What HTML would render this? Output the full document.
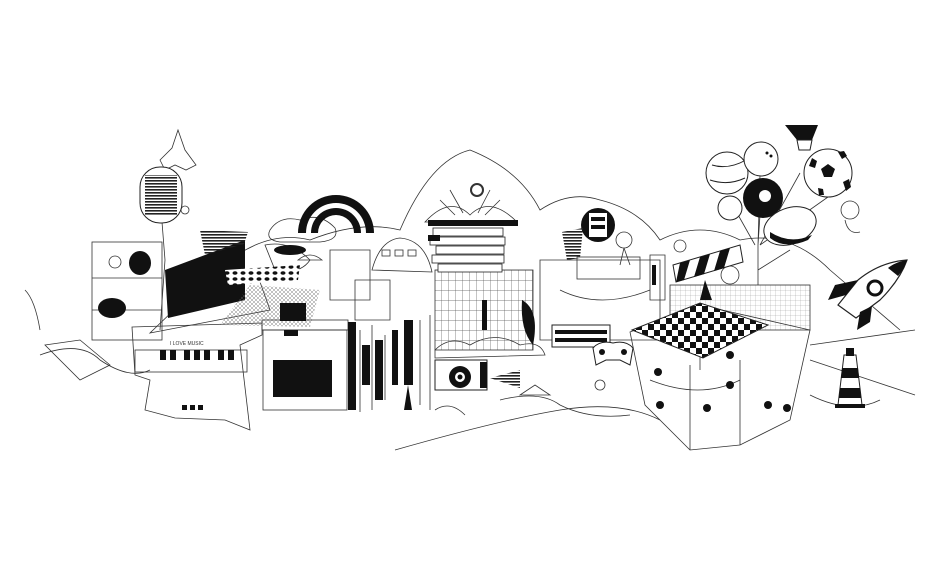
<!DOCTYPE html>
<html><head><meta charset="utf-8"><style>html,body{margin:0;padding:0;background:#fff}svg{display:block}</style></head>
<body>
<svg width="950" height="573" viewBox="0 0 950 573" xmlns="http://www.w3.org/2000/svg">
<defs>
<pattern id="chk" width="12" height="12" patternUnits="userSpaceOnUse"><rect width="12" height="12" fill="#fff"/><rect width="6" height="6" fill="#111"/><rect x="6" y="6" width="6" height="6" fill="#111"/></pattern>
<pattern id="grid" width="4" height="4" patternUnits="userSpaceOnUse"><path d="M0 0L4 4M4 0L0 4" stroke="#666" stroke-width="0.4"/></pattern>
<pattern id="lgrid" width="5" height="5" patternUnits="userSpaceOnUse"><path d="M0 0V5M0 0H5" stroke="#888" stroke-width="0.4"/></pattern>
<pattern id="hl" width="4" height="3" patternUnits="userSpaceOnUse"><rect width="4" height="1.6" fill="#222"/></pattern>
<pattern id="vl" width="7" height="10" patternUnits="userSpaceOnUse"><path d="M0 0V10M0 0H7" stroke="#555" stroke-width="0.7"/></pattern>
<pattern id="dots" width="8" height="6" patternUnits="userSpaceOnUse"><rect width="8" height="6" fill="#fff"/><ellipse cx="3" cy="3" rx="2.5" ry="1.8" fill="#111"/></pattern>
</defs>
<g fill="none" stroke="#333" stroke-width="0.8">
<path d="M230 260 Q270 230 310 240 Q360 220 400 230 Q430 160 470 150 Q520 170 540 210 Q570 190 600 200 Q640 210 660 240 Q700 220 740 240 Q790 230 830 270 L900 330"/>
<path d="M395 450 Q500 420 560 410 Q620 400 660 420"/>
<path d="M40 355 Q80 340 100 360 Q130 380 150 370"/>
<path d="M25 290 Q35 300 40 330"/>
<path d="M810 345 L915 330 M810 360 L915 395 M810 395 Q850 415 880 400"/>
<path d="M500 400 Q540 390 560 405 Q590 420 630 415"/>
<rect x="92" y="242" width="70" height="98"/>
<line x1="92" y1="278" x2="162" y2="278"/><line x1="92" y1="310" x2="162" y2="310"/>
<circle cx="115" cy="262" r="6"/>
<path d="M160 160 L172 148 L178 130 L185 150 L196 165 L186 170 L175 165 L165 170 Z"/>
<path d="M45 345 L80 340 L110 365 L80 380 Z"/>
<path d="M265 245 Q290 240 310 260 Q300 275 275 270 Z"/>
<path d="M330 250 L370 250 L370 300 L330 300 Z"/>
<path d="M355 280 L390 280 L390 320 L355 320 Z"/>
<path d="M372 270 Q380 240 400 238 Q425 240 432 272 Z"/>
<rect x="382" y="250" width="8" height="6"/><rect x="395" y="250" width="8" height="6"/><rect x="408" y="250" width="8" height="6"/>
<path d="M270 230 Q280 215 300 220 Q320 212 335 228 Q340 240 320 242 L280 242 Q265 240 270 230 Z"/>
<path d="M435 350 Q450 335 470 345 Q495 330 520 345 Q540 340 545 355 L435 358 Z"/>
<path d="M540 260 L660 260 L660 340 L540 340 Z"/>
<path d="M560 290 Q600 310 650 290"/>
<rect x="577" y="257" width="63" height="22"/>
<circle cx="624" cy="240" r="8"/>
<path d="M624 248 L620 265 M624 248 L630 265"/>
<path d="M650 255 L665 255 L665 300 L650 300 Z"/>
<rect x="670" y="285" width="140" height="45" fill="url(#lgrid)"/>
<circle cx="730" cy="275" r="9"/>
<circle cx="680" cy="246" r="6"/>
<circle cx="850" cy="210" r="9"/><path d="M845 220 Q848 235 860 232"/>
<path d="M728 197 L755 245 M760 175 L758 245 M800 173 L760 245 M828 197 L760 245 M760 215 L758 245 M790 250 L758 270 M758 245 L758 285"/>
<path d="M630 332 L700 305 L810 330 L790 420 L740 445 L690 450 L645 405 Z"/>
<path d="M700 305 L700 370 M690 365 L690 450 M740 360 L740 445"/>
<path d="M650 380 Q700 400 740 380"/>
<path d="M360 330 L360 412 M372 325 L372 410 M385 335 L385 400 M420 320 L420 405 M430 315 L430 410"/>
<path d="M435 410 Q450 400 465 415"/>
<path d="M132 327 L262 323 L262 335 L240 345 L250 430 L225 420 L175 418 L145 410 L150 380 L135 375 Z"/>
<rect x="135" y="350" width="112" height="22"/>
<path d="M150 333 L270 310 L260 282 L200 285 Z"/>
<rect x="263" y="330" width="84" height="80"/>
<rect x="262" y="320" width="86" height="10"/>
<path d="M425 222 Q450 195 470 215 Q490 195 517 222 Z"/>
<path d="M440 200 L455 215 M450 190 L463 213 M490 190 L478 213 M500 200 L485 215"/>
<circle cx="477" cy="190" r="6" stroke-width="2"/>
<rect x="435" y="270" width="98" height="80" fill="url(#vl)"/>
<path d="M298 260 Q310 250 322 260 Z"/>
<path d="M162 222 L165 260 L160 330"/>
<circle cx="185" cy="210" r="4"/>
<circle cx="600" cy="385" r="5"/>
<path d="M520 395 L535 385 L550 395 Z"/>
</g>
<g fill="#111" stroke="none">
<rect x="140" y="167" width="42" height="56" rx="20" fill="#fff" stroke="#222"/>
<rect x="145" y="175" width="32" height="40" fill="url(#hl)"/>
<ellipse cx="140" cy="263" rx="11" ry="12"/>
<ellipse cx="112" cy="308" rx="14" ry="10"/>
<path d="M165 270 L245 240 L245 300 L168 318 Z"/>
<path d="M200 230 L248 232 L244 244 L205 255 Z" fill="url(#hl)"/>
<rect x="160" y="350" width="6" height="10"/><rect x="170" y="350" width="6" height="10"/><rect x="184" y="350" width="6" height="10"/><rect x="194" y="350" width="6" height="10"/><rect x="204" y="350" width="6" height="10"/><rect x="218" y="350" width="6" height="10"/><rect x="228" y="350" width="6" height="10"/>
<rect x="182" y="405" width="5" height="5"/><rect x="190" y="405" width="5" height="5"/><rect x="198" y="405" width="5" height="5"/>
<path d="M220 325 L250 285 L320 290 L310 327 Z" fill="url(#grid)"/>
<path d="M225 270 L300 265 L298 280 L228 285 Z" fill="url(#dots)"/>
<rect x="273" y="360" width="59" height="37"/>
<rect x="284" y="330" width="14" height="6"/>
<rect x="280" y="303" width="26" height="18"/>
<path d="M298 233 A38 38 0 0 1 374 233 L366 233 A30 30 0 0 0 306 233 Z"/>
<path d="M311 233 A25 25 0 0 1 361 233 L354 233 A18 18 0 0 0 318 233 Z"/>
<rect x="428" y="220" width="90" height="6"/>
<g fill="#fff" stroke="#222" stroke-width="0.8"><rect x="433" y="228" width="70" height="8"/><rect x="430" y="237" width="75" height="8"/><rect x="436" y="246" width="68" height="8"/><rect x="432" y="255" width="72" height="8"/><rect x="438" y="264" width="64" height="8"/></g>
<rect x="428" y="235" width="12" height="6"/>
<rect x="482" y="300" width="5" height="30"/>
<path d="M522 300 Q540 310 533 345 Q520 330 522 300 Z"/>
<rect x="348" y="322" width="8" height="88"/><rect x="404" y="320" width="9" height="65"/>
<rect x="375" y="340" width="8" height="60"/><rect x="392" y="330" width="6" height="55"/>
<rect x="362" y="345" width="8" height="40"/>
<path d="M408 385 L412 410 L404 410 Z"/>
<rect x="435" y="360" width="52" height="30" fill="#fff" stroke="#222"/>
<circle cx="460" cy="377" r="11"/><circle cx="460" cy="377" r="5" fill="#fff"/><circle cx="460" cy="377" r="2.5"/>
<rect x="480" y="362" width="7" height="26"/>
<path d="M490 378 L520 370 L520 388 Z" fill="url(#hl)"/>
<circle cx="598" cy="225" r="17"/>
<rect x="589" y="213" width="18" height="24" fill="#fff"/>
<rect x="591" y="217" width="14" height="4"/><rect x="591" y="225" width="14" height="4"/>
<path d="M562 232 L583 228 L580 258 L567 260 Z" fill="url(#hl)"/>
<rect x="552" y="325" width="58" height="22" fill="#fff" stroke="#222"/>
<rect x="555" y="330" width="52" height="4"/><rect x="555" y="338" width="52" height="4"/>
<path d="M593 348 Q600 340 613 343 Q626 340 633 348 L630 365 L620 360 L606 360 L596 365 Z" fill="#fff" stroke="#222"/>
<circle cx="602" cy="352" r="3"/><circle cx="624" cy="352" r="3"/>
<path d="M673 265 L740 245 L743 262 L676 282 Z" fill="#fff" stroke="#222"/>
<path d="M680 263 L690 260 L684 280 L676 282 Z M700 257 L710 254 L704 274 L694 277 Z M720 251 L730 248 L724 268 L714 271 Z"/>
<rect x="652" y="265" width="4" height="20"/>
<path d="M632 330 L700 303 L768 325 L703 358 Z" fill="url(#chk)" stroke="#222"/>
<path d="M700 300 L705 280 L712 300 Z"/>
<circle cx="658" cy="372" r="4"/><circle cx="730" cy="355" r="4"/><circle cx="730" cy="385" r="4"/><circle cx="707" cy="408" r="4"/><circle cx="768" cy="405" r="4"/><circle cx="787" cy="408" r="4"/><circle cx="660" cy="405" r="4"/>
<circle cx="727" cy="173" r="21" fill="#fff" stroke="#222"/>
<path d="M712 165 Q728 170 746 160 M710 180 Q728 186 745 178" stroke="#222" fill="none"/>
<circle cx="761" cy="159" r="17" fill="#fff" stroke="#222"/>
<circle cx="767" cy="153" r="1.5"/><circle cx="771" cy="156" r="1.5"/>
<path d="M785 125 L818 125 L812 140 L797 140 Z"/>
<path d="M797 140 L812 140 L810 150 L799 150 Z" fill="#fff" stroke="#222"/>
<circle cx="828" cy="173" r="24" fill="#fff" stroke="#222"/>
<path d="M828 164 l7 5 -3 8 h-8 l-3 -8 Z M812 158 l5 3 -2 7 -6 -2 Z M838 152 l6 -1 3 5 -5 3 Z M843 182 l6 -3 2 8 -5 4 Z M818 188 l5 1 1 6 -5 0 Z"/>
<circle cx="763" cy="198" r="20"/><circle cx="765" cy="196" r="6" fill="#fff"/>
<circle cx="730" cy="208" r="12" fill="#fff" stroke="#222"/>
<ellipse cx="790" cy="226" rx="27" ry="18" fill="#fff" stroke="#222" transform="rotate(-20 790 226)"/>
<path d="M770 238 Q785 250 808 240 L812 235 Q790 245 770 232 Z"/>
<path d="M907 260 Q880 262 858 280 L838 305 L856 318 L880 300 Q900 280 907 260 Z" fill="#fff" stroke="#222" stroke-width="1.2"/>
<path d="M907 260 Q895 262 888 268 L898 276 Q905 268 907 260 Z"/>
<circle cx="875" cy="288" r="7" fill="#fff" stroke="#111" stroke-width="3"/>
<path d="M858 280 L835 285 L828 300 L846 295 Z M860 312 L857 330 L870 322 L872 306 Z"/>
<path d="M844 355 L856 355 L862 405 L838 405 Z" fill="#fff" stroke="#222"/>
<path d="M842 368 L858 368 L859 378 L841 378 Z M840 388 L860 388 L861 398 L839 398 Z"/>
<rect x="846" y="348" width="8" height="8"/>
<rect x="835" y="404" width="30" height="4"/>
<ellipse cx="290" cy="250" rx="16" ry="5"/>
</g>
<text x="170" y="345" font-family="Liberation Sans, sans-serif" font-size="5" fill="#333">I LOVE MUSIC</text>
<text x="290" y="343" font-family="Liberation Sans, sans-serif" font-size="5" fill="#fff">15:19</text>
</svg>
</body></html>
